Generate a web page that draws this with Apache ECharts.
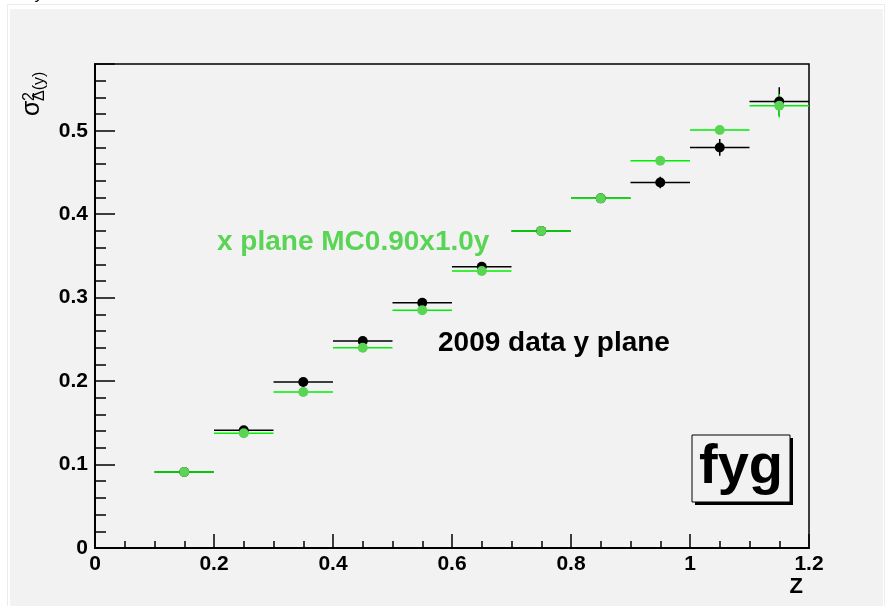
<!DOCTYPE html>
<html>
<head>
<meta charset="utf-8">
<script src="https://cdn.jsdelivr.net/npm/echarts@6/dist/echarts.min.js"></script>
<style>
html,body{margin:0;padding:0;background:#ffffff;}
#wrap{position:relative;width:885px;height:606px;background:#ffffff;overflow:hidden;}
#pad{position:absolute;left:10px;top:9px;width:873px;height:597px;background:#f2f2f2;}
#edge{position:absolute;left:7px;top:4px;width:878px;height:610px;border:1px solid #ececec;box-sizing:border-box;}
#chart{position:absolute;left:0;top:0;width:885px;height:606px;}
</style>
</head>
<body>
<div id="wrap"><div id="edge"></div><div id="pad"></div><div id="chart"></div></div>
<script>
// ---- data ----
const zBins = [0.15, 0.25, 0.35, 0.45, 0.55, 0.65, 0.75, 0.85, 0.95, 1.05, 1.15];
const zHalfWidth = [0.05, 0.05, 0.05, 0.05, 0.05, 0.05, 0.05, 0.05, 0.05, 0.05, 0.05];
const dataY   = [0.091, 0.141, 0.199, 0.248, 0.294, 0.337, 0.380, 0.419, 0.438, 0.480, 0.535];
const dataErr = [0.002, 0.002, 0.003, 0.003, 0.003, 0.004, 0.004, 0.005, 0.007, 0.010, 0.017];
const mcY     = [0.091, 0.1375, 0.187, 0.240, 0.285, 0.332, 0.380, 0.419, 0.464, 0.501, 0.530];
const mcErr   = [0.001, 0.002, 0.002, 0.002, 0.003, 0.003, 0.003, 0.004, 0.004, 0.005, 0.014];
const xTicks = [0, 0.2, 0.4, 0.6, 0.8, 1, 1.2];
const yTicks = [0, 0.1, 0.2, 0.3, 0.4, 0.5];
const labelMC = 'x plane MC0.90x1.0y';
const labelData = '2009 data y plane';
const tag = 'fyg';

const FONT = '"Liberation Sans", Arial, Helvetica, sans-serif';
const BLACK = '#000000';
const GREEN_M = '#59d454';
const GREEN_L = '#00ee00';

function errSeries(name, ys, errs, color, lw) {
  return {
    name: name + ' err',
    type: 'custom',
    data: zBins.map((x, i) => [x, ys[i], zHalfWidth[i], errs[i]]),
    renderItem: function (params, api) {
      const x = api.value(0), y = api.value(1), ex = api.value(2), ey = api.value(3);
      const a = api.coord([x - ex, y]), b = api.coord([x + ex, y]);
      const c = api.coord([x, y - ey]), d = api.coord([x, y + ey]);
      return {
        type: 'group',
        children: [
          { type: 'line', shape: { x1: a[0], y1: a[1], x2: b[0], y2: b[1] }, style: { stroke: color, lineWidth: lw } },
          { type: 'line', shape: { x1: c[0], y1: c[1], x2: d[0], y2: d[1] }, style: { stroke: color, lineWidth: lw } }
        ]
      };
    },
    silent: true,
    animation: false
  };
}
function ptSeries(name, ys, color) {
  return {
    name: name,
    type: 'scatter',
    data: zBins.map((x, i) => [x, ys[i]]),
    symbol: 'circle',
    symbolSize: 10,
    itemStyle: { color: color, opacity: 1 },
    silent: true,
    animation: false
  };
}

const chart = echarts.init(document.getElementById('chart'), null, { renderer: 'canvas' });
const tickLabelStyle = { color: BLACK, fontFamily: FONT, fontWeight: 'bold', fontSize: 21 };

chart.setOption({
  backgroundColor: 'transparent',
  animation: false,
  grid: {
    left: 95, right: 76, top: 64, bottom: 58,
    show: true, borderColor: BLACK, borderWidth: 1.5, backgroundColor: 'transparent'
  },
  xAxis: {
    type: 'value', min: xTicks[0], max: xTicks[xTicks.length - 1], interval: 0.2,
    axisLine: { show: true, onZero: false, lineStyle: { color: BLACK, width: 2 } },
    axisTick: { show: true, inside: true, length: 14, lineStyle: { color: BLACK, width: 1.5 } },
    minorTick: { show: true, splitNumber: 4, length: 7, lineStyle: { color: BLACK, width: 1.5 } },
    splitLine: { show: false },
    axisLabel: Object.assign({ margin: 6, formatter: v => String(+v.toFixed(2)) }, tickLabelStyle)
  },
  yAxis: {
    type: 'value', min: 0, max: 0.58, interval: 0.1,
    axisLine: { show: true, onZero: false, lineStyle: { color: BLACK, width: 2 } },
    axisTick: { show: true, inside: true, length: 20, lineStyle: { color: BLACK, width: 1.5 } },
    minorTick: { show: true, splitNumber: 5, length: 11, lineStyle: { color: BLACK, width: 1.5 } },
    splitLine: { show: false },
    axisLabel: Object.assign({ margin: 7, showMaxLabel: false, formatter: v => String(+v.toFixed(2)) }, tickLabelStyle)
  },
  series: [
    errSeries('data', dataY, dataErr, BLACK, 1.5),
    ptSeries('data', dataY, BLACK),
    errSeries('mc', mcY, mcErr, GREEN_L, 1.5),
    ptSeries('mc', mcY, GREEN_M)
  ],
  graphic: [
    // cut-off title glyph at top
    { type: 'text', left: 36, top: -13, style: { text: 'y', font: 'italic 16px ' + FONT, fill: BLACK } },
    // y axis title (rotated)
    {
      type: 'group', x: 45, y: 116, rotation: Math.PI / 2,
      children: [
        { type: 'text', x: 0, y: 0, style: { text: 'σ', font: '25px ' + FONT, fill: BLACK, textAlign: 'left', textVerticalAlign: 'bottom' } },
        { type: 'text', x: 15, y: -7, style: { text: '2', font: '16px ' + FONT, fill: BLACK, textAlign: 'left', textVerticalAlign: 'bottom' } },
        { type: 'text', x: 15, y: 3, style: { text: 'Δ(y)', font: '16px ' + FONT, fill: BLACK, textAlign: 'left', textVerticalAlign: 'bottom' } }
      ]
    },
    // x axis title
    { type: 'text', x: 803, y: 598, style: { text: 'Z', font: 'bold 22px ' + FONT, fill: BLACK, textAlign: 'right', textVerticalAlign: 'bottom' } },
    // legend-like labels
    { type: 'text', x: 217, y: 256, style: { text: labelMC, font: 'bold 28px ' + FONT, fill: GREEN_M, textAlign: 'left', textVerticalAlign: 'bottom' } },
    { type: 'text', x: 438, y: 357, style: { text: labelData, font: 'bold 28px ' + FONT, fill: BLACK, textAlign: 'left', textVerticalAlign: 'bottom' } },
    // fyg box with shadow
    { type: 'rect', shape: { x: 695, y: 438, width: 98, height: 67 }, style: { fill: BLACK } },
    { type: 'rect', shape: { x: 692, y: 435, width: 98, height: 67 }, style: { fill: '#f2f2f2', stroke: BLACK, lineWidth: 1 } },
    { type: 'text', x: 741, y: 468, style: { text: tag, font: 'bold 56px ' + FONT, fill: BLACK, textAlign: 'center', textVerticalAlign: 'middle' } }
  ]
});
</script>
</body>
</html>
